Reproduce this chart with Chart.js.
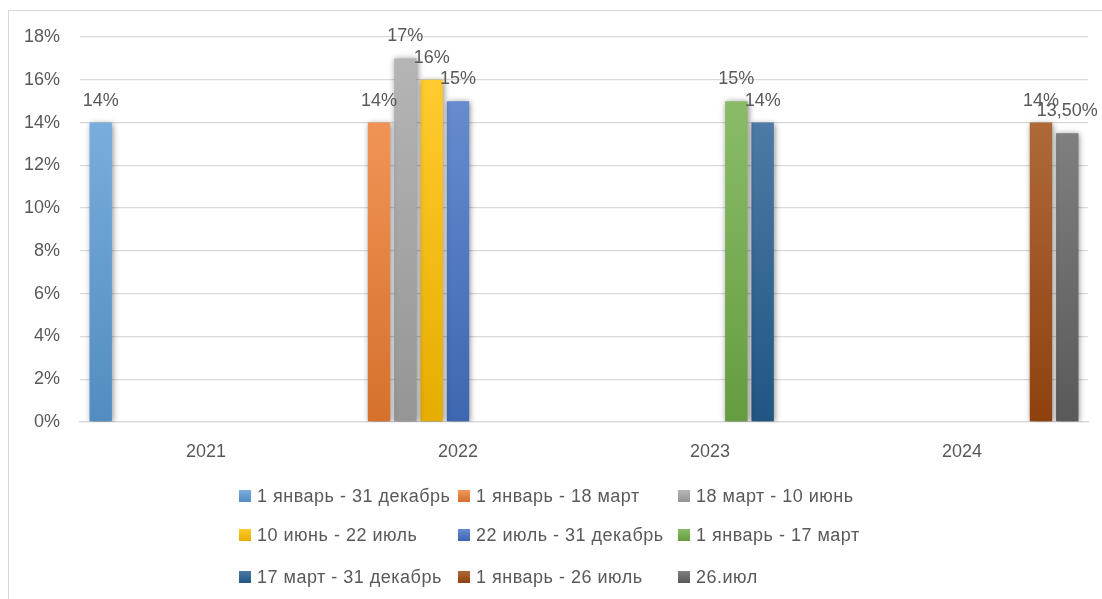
<!DOCTYPE html>
<html>
<head>
<meta charset="utf-8">
<script src="https://cdn.jsdelivr.net/npm/chart.js@4.4.1/dist/chart.umd.min.js"></script>
<style>
  html, body { margin: 0; padding: 0; background: #fff; }
  #wrap { position: relative; width: 1102px; height: 599px; overflow: hidden; }
  #frame { position: absolute; left: 8px; top: 10px; width: 1200px; height: 700px; border: 1px solid #d9d9d9; box-sizing: border-box; }
  canvas { position: absolute; left: 0; top: 0; }
  #legend { position: absolute; left: 0; top: 0; width: 1102px; height: 599px; pointer-events: none;
            font-family: "Liberation Sans", Arial, sans-serif; font-size: 18px; color: #595959; }
  .li { position: absolute; height: 24px; display: flex; align-items: center; white-space: nowrap; letter-spacing: 0.5px; }
  .lb { width: 12px; height: 12px; margin-right: 6px; }
</style>
</head>
<body>
<div id="wrap">
  <div id="frame"></div>
  <canvas id="c" width="1102" height="599"></canvas>
  <div id="legend"></div>
</div>
<script>
const categories = ["2021", "2022", "2023", "2024"];
const seriesNames = [
  "1 январь - 31 декабрь",
  "1 январь - 18 март",
  "18 март - 10 июнь",
  "10 июнь - 22 июль",
  "22 июль - 31 декабрь",
  "1 январь - 17 март",
  "17 март - 31 декабрь",
  "1 январь - 26 июль",
  "26.июл"
];
const s1 = [0.14, null, null, null];
const s2 = [null, 0.14, null, null];
const s3 = [null, 0.17, null, null];
const s4 = [null, 0.16, null, null];
const s5 = [null, 0.15, null, null];
const s6 = [null, null, 0.15, null];
const s7 = [null, null, 0.14, null];
const s8 = [null, null, null, 0.14];
const s9 = [null, null, null, 0.135];
const seriesValues = [s1, s2, s3, s4, s5, s6, s7, s8, s9];
const seriesColors = ["#5B9BD5", "#ED7D31", "#A5A5A5", "#FFC000", "#4472C4", "#70AD47", "#255E91", "#9E480E", "#636363"];
const yTicks = [0, 0.02, 0.04, 0.06, 0.08, 0.10, 0.12, 0.14, 0.16, 0.18];

const FONT = "Liberation Sans";
const TEXT = "#595959";

function hexToRgb(h) {
  const n = parseInt(h.slice(1), 16);
  return [(n >> 16) & 255, (n >> 8) & 255, n & 255];
}
function mix(h, target, t) {
  const c = hexToRgb(h);
  return "rgb(" + c.map(v => Math.round(v + (target - v) * t)).join(",") + ")";
}
function fmt(v) {
  const p = Math.round(v * 10000) / 100;
  if (Number.isInteger(p)) return p + "%";
  return p.toFixed(2).replace(".", ",") + "%";
}

function barFill(color) {
  return function (ctx) {
    const chart = ctx.chart;
    const v = ctx.raw;
    const ys = chart.scales && chart.scales.y;
    if (!chart.chartArea || !ys || v == null) return color;
    const top = ys.getPixelForValue(v);
    const bot = ys.getPixelForValue(0);
    if (!isFinite(top) || !isFinite(bot) || bot === top) return color;
    const g = chart.ctx.createLinearGradient(0, top, 0, bot);
    g.addColorStop(0, mix(color, 255, 0.18));
    g.addColorStop(1, mix(color, 0, 0.1));
    return g;
  };
}

const datasets = seriesValues.map((vals, i) => ({
  label: seriesNames[i],
  data: vals,
  backgroundColor: barFill(seriesColors[i]),
  borderWidth: 0,
  categoryPercentage: 0.94,
  barPercentage: 0.85
}));

const shadowPlugin = {
  id: "shadow",
  beforeDatasetsDraw(chart) {
    const c = chart.ctx;
    c.save();
    c.shadowColor = "rgba(0,0,0,0.45)";
    c.shadowBlur = 6;
    c.shadowOffsetX = 1;
    c.shadowOffsetY = 1;
  },
  afterDatasetsDraw(chart) {
    chart.ctx.restore();
  }
};

const labelPlugin = {
  id: "valueLabels",
  afterDraw(chart) {
    const c = chart.ctx;
    c.save();
    c.font = "18px '" + FONT + "'";
    c.fillStyle = TEXT;
    c.textAlign = "center";
    c.textBaseline = "middle";
    chart.data.datasets.forEach((ds, di) => {
      const meta = chart.getDatasetMeta(di);
      meta.data.forEach((el, i) => {
        const v = ds.data[i];
        if (v == null) return;
        c.fillText(fmt(v), el.x, el.y - 22);
      });
    });
    c.restore();
  }
};

new Chart(document.getElementById("c"), {
  type: "bar",
  data: { labels: categories, datasets: datasets },
  options: {
    responsive: false,
    animation: false,
    layout: { padding: { top: 37, right: 14, bottom: 117, left: 0 } },
    plugins: { legend: { display: false }, tooltip: { enabled: false } },
    scales: {
      x: {
        grid: { display: false, drawTicks: false },
        border: { display: true, color: "#d9d9d9", width: 1.3 },
        ticks: { color: TEXT, font: { family: FONT, size: 18 }, padding: 19 },
        afterFit(s) { s.height = 60; }
      },
      y: {
        min: 0, max: 0.18,
        afterBuildTicks(s) { s.ticks = yTicks.map(v => ({ value: v })); },
        grid: { color: "#d9d9d9", lineWidth: 1.3, drawTicks: false },
        border: { display: false },
        ticks: { color: TEXT, font: { family: FONT, size: 18 }, padding: 20,
                 callback: v => Math.round(v * 100) + "%" },
        afterFit(s) { s.width = 80; }
      }
    }
  },
  plugins: [shadowPlugin, labelPlugin]
});

// HTML legend built from the series arrays
const colX = [239, 458, 678];
const rowY = [496, 535, 577];
const leg = document.getElementById("legend");
seriesNames.forEach((name, i) => {
  const item = document.createElement("div");
  item.className = "li";
  item.style.left = colX[i % 3] + "px";
  item.style.top = (rowY[Math.floor(i / 3)] - 12) + "px";
  const box = document.createElement("span");
  box.className = "lb";
  box.style.background = "linear-gradient(" + mix(seriesColors[i], 255, 0.18) + "," + mix(seriesColors[i], 0, 0.1) + ")";
  const txt = document.createElement("span");
  txt.textContent = name;
  item.appendChild(box);
  item.appendChild(txt);
  leg.appendChild(item);
});
</script>
</body>
</html>
